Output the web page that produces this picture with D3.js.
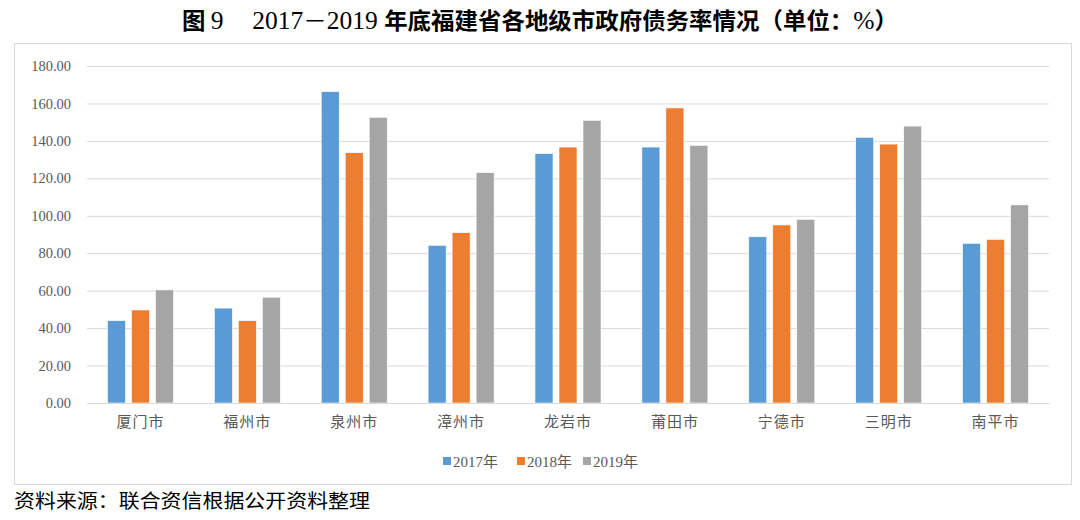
<!DOCTYPE html>
<html><head><meta charset="utf-8">
<script src="https://cdn.jsdelivr.net/npm/d3@7"></script>
<style>
html,body{margin:0;padding:0;background:#fff;}
svg{display:block;}
</style>
</head><body>
<svg id="c" width="1080" height="520"></svg>
<script>
const categories = ["厦门市","福州市","泉州市","漳州市","龙岩市","莆田市","宁德市","三明市","南平市"];
const seriesNames = ["2017年","2018年","2019年"];
const v2017 = [44.0, 50.7, 166.3, 84.2, 133.2, 136.7, 88.8, 141.9, 85.3];
const v2018 = [49.7, 44.0, 133.7, 91.0, 136.7, 157.6, 95.1, 138.3, 87.4];
const v2019 = [60.4, 56.5, 152.6, 123.0, 151.0, 137.6, 98.1, 147.9, 105.8];
const yTicks = [0,20,40,60,80,100,120,140,160,180];
const colors = ["#5B9BD5","#ED7D31","#A5A5A5"];
const titleParts = [["图 ", "cjk"], ["9", "lat"], ["　 ", "cjk"], ["2017", "lat"], ["－", "dash"], ["2019 ", "lat"], ["年底福建省各地级市政府债务率情况（单位：", "cjk"], ["%", "lat"], ["）", "cjk"]];
const sourceText = "资料来源：联合资信根据公开资料整理";

const seriesVals = [v2017, v2018, v2019];
const svg = d3.select("#c");

// title
const title = svg.append("text")
  .attr("x", 540).attr("y", 29)
  .attr("text-anchor","middle")
  .attr("font-size", 23)
  .attr("fill","#000")
  .attr("textLength", 716).attr("lengthAdjust","spacingAndGlyphs");
title.selectAll("tspan").data(titleParts).join("tspan")
  .attr("font-family", d => d[1]==="lat" ? "'Liberation Serif',serif" : "'Noto Sans CJK SC',sans-serif")
  .attr("font-weight", d => d[1]==="cjk" ? 700 : 400)
  .attr("font-size", d => d[1]==="lat" ? 25 : 23)
  .text(d => d[0]);

// frame
svg.append("rect").attr("x",14.5).attr("y",43.5).attr("width",1057).attr("height",441)
  .attr("fill","#fff").attr("stroke","#d9d9d9").attr("stroke-width",1);

const x0 = d3.scaleBand().domain(categories).range([87,1049]).padding(0);
const groupW = 66;
const x1 = d3.scaleBand().domain(seriesNames).range([0,groupW]).paddingInner(0.25).paddingOuter(0);
const y = d3.scaleLinear().domain([0,180]).range([403,66]);

// grid
const yAxis = d3.axisLeft(y).tickValues(yTicks).tickSize(-(1049-87)).tickFormat(d3.format(".2f"));
const gy = svg.append("g").attr("transform","translate(87,0)").call(yAxis);
gy.select(".domain").remove();
gy.selectAll(".tick line").attr("stroke","#d9d9d9").attr("stroke-width",1);
gy.selectAll(".tick text").attr("x",-16).attr("fill","#595959")
  .attr("font-family","'Liberation Serif',serif").attr("font-size",14.5);

// bars
const g = svg.append("g");
seriesNames.forEach((s,si)=>{
  g.selectAll(".b"+si).data(categories).join("rect")
    .attr("x", c => x0(c) + (x0.bandwidth()-groupW)/2 + x1(s))
    .attr("y", (c,i) => y(seriesVals[si][i]))
    .attr("width", x1.bandwidth())
    .attr("height", (c,i) => y(0) - y(seriesVals[si][i]))
    .attr("fill", colors[si])
    .attr("stroke","#fff").attr("stroke-width",0.6);
});

// x axis
const xAxis = d3.axisBottom(x0).tickSize(0).tickPadding(0);
const gx = svg.append("g").attr("transform","translate(0,403)").call(xAxis);
gx.select(".domain").attr("stroke","#d9d9d9");
gx.selectAll(".tick text").attr("y",13).attr("dy","0.71em").attr("fill","#595959")
  .attr("font-family","'Noto Sans CJK SC',sans-serif").attr("font-size",15)
  .attr("letter-spacing",1);

// legend
const legendX = [443, 517, 583];
const lg = svg.append("g");
seriesNames.forEach((s,i)=>{
  lg.append("rect").attr("x",legendX[i]).attr("y",457).attr("width",8).attr("height",8).attr("fill",colors[i]);
  lg.append("text").attr("x",legendX[i]+10).attr("y",466.5)
    .attr("font-family","'Liberation Serif','Noto Sans CJK SC',serif").attr("font-size",15)
    .attr("fill","#595959").text(s);
});

// source
svg.append("text").attr("x",14).attr("y",508)
  .attr("font-family","'Noto Sans CJK SC',sans-serif").attr("font-size",19)
  .attr("fill","#000").attr("textLength",356).attr("lengthAdjust","spacingAndGlyphs")
  .text(sourceText);
</script>
</body></html>
